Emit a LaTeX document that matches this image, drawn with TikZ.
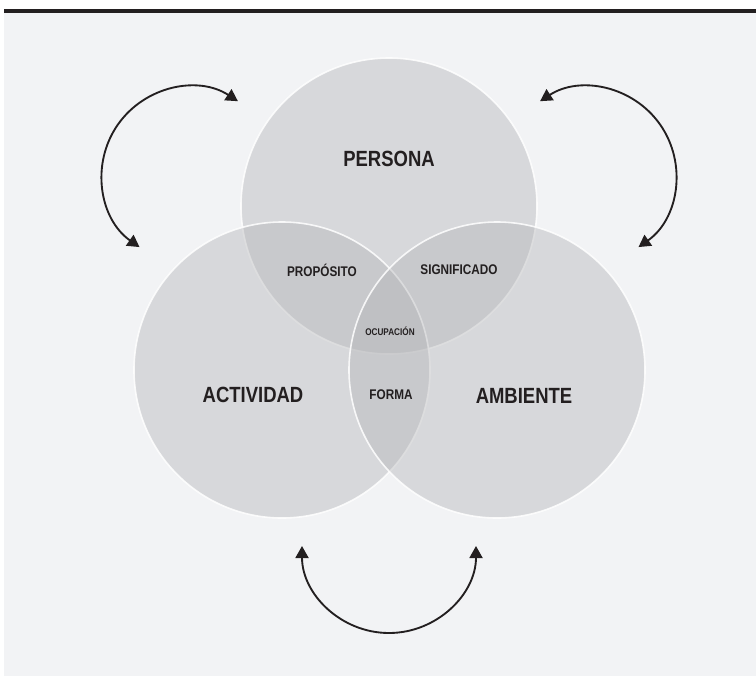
\documentclass[tikz,border=0pt]{standalone}
\usepackage{fontspec}
\setmainfont{Liberation Sans}
\newfontfamily\dinfont[FakeStretch=0.84]{Liberation Sans Bold}
\usetikzlibrary{arrows.meta}
\definecolor{bgcol}{RGB}{242,243,245}
\definecolor{venncol}{RGB}{180,181,184}
\definecolor{inkcol}{RGB}{35,31,32}
\tikzset{
  venn/.style={circle, inner sep=0pt, minimum size=222pt, fill=venncol, fill opacity=0.42,
    draw=white, draw opacity=0.85, line width=1.2pt},
  biglabel/.style={inner sep=0.75pt, text=inkcol, font=\dinfont\fontsize{16.5}{18}\selectfont},
  midlabel/.style={inner sep=0.75pt, text=inkcol, font=\dinfont\fontsize{10.5}{12}\selectfont},
  smalllabel/.style={inner sep=0.75pt, text=inkcol, font=\dinfont\fontsize{7.3}{8}\selectfont},
  cyc/.style={draw=inkcol, line width=1.4pt, {Triangle[length=9pt,width=9.75pt]}-{Triangle[length=9pt,width=9.75pt]}}
}
\begin{document}
\begin{tikzpicture}[x=0.75pt,y=0.75pt,yscale=-1,xscale=1]
\useasboundingbox (0,0) rectangle (756,676);
%Background and top rule
\fill[white] (0,0) rectangle (756,676);
\fill[bgcol] (4,12.7) rectangle (756,676);
\fill[inkcol] (4,9.3) rectangle (756,12.7);

%Shape: Circles
\node[venn] (persona) at (389,206) {};
\node[venn] (actividad) at (282,370) {};
\node[venn] (ambiente) at (497,370) {};

%Arc centres
\coordinate (tlc) at (190,175);
\coordinate (trc) at (588,175);
\coordinate (btc) at (389,546);

%Curve Lines
\draw[cyc] (tlc) ++(125:88) arc[start angle=125, end angle=303, radius=88];
\draw[cyc] (trc) ++(55:88) arc[start angle=55, end angle=-123, radius=88];
\draw[cyc] (btc) ++(180:87) arc[start angle=180, end angle=0, radius=87];

% Text Node
\node[biglabel] (lpersona) at (389,159) {PERSONA};
% Text Node
\node[biglabel] (lactividad) at (253,395) {ACTIVIDAD};
% Text Node
\node[biglabel] (lambiente) at (524,396) {AMBIENTE};
% Text Node
\node[midlabel] (lproposito) at (322,270) {PROPÓSITO};
% Text Node
\node[midlabel] (lsignificado) at (459,270) {SIGNIFICADO};
% Text Node
\node[smalllabel] (locupacion) at (390,331) {OCUPACIÓN};
% Text Node
\node[midlabel] (lforma) at (391,395) {FORMA};

\end{tikzpicture}
\end{document}
